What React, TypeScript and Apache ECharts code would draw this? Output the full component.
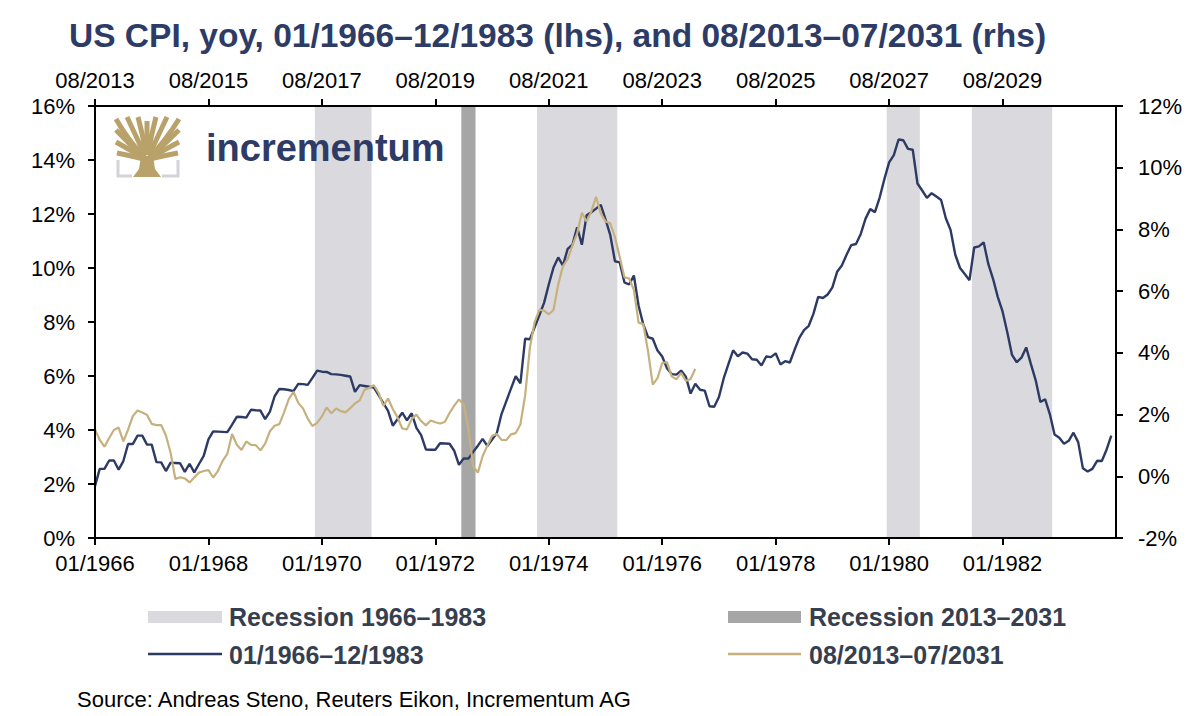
import React, { useEffect, useRef } from "react";
import * as echarts from "echarts";

// ---- Data ----
const bottomStartYear = 1966; // 01/1966
const topStartYear = 2013; // 08/2013
const leftTicks = { min: 0, max: 16, step: 2 };
const rightTicks = { min: -2, max: 12, step: 2 };

// US CPI yoy %, monthly 01/1966 – 12/1983 (lhs)
const cpi1966 = [
  1.92, 2.56, 2.56, 2.87, 2.87, 2.53, 2.85, 3.48, 3.48, 3.79, 3.79, 3.46,
  3.46, 2.81, 2.8, 2.48, 2.79, 2.78, 2.77, 2.45, 2.75, 2.43, 2.74, 3.04,
  3.65, 3.95, 3.94, 3.93, 3.92, 4.2, 4.49, 4.48, 4.46, 4.75, 4.73, 4.72,
  4.4, 4.68, 5.25, 5.52, 5.51, 5.48, 5.44, 5.71, 5.7, 5.67, 5.93, 6.2,
  6.16, 6.15, 6.07, 6.06, 6.04, 6.01, 5.98, 5.41, 5.66, 5.63, 5.6, 5.57,
  5.29, 5.0, 4.71, 4.16, 4.4, 4.64, 4.36, 4.62, 4.08, 3.81, 3.28, 3.27,
  3.27, 3.51, 3.5, 3.49, 3.23, 2.71, 2.95, 2.94, 3.19, 3.42, 3.67, 3.41,
  3.65, 3.88, 4.59, 5.06, 5.53, 5.99, 5.73, 7.38, 7.36, 7.8, 8.25, 8.71,
  9.39, 10.02, 10.39, 10.09, 10.71, 10.86, 11.51, 10.86, 11.95, 12.06, 12.2, 12.34,
  11.8, 11.23, 10.25, 10.21, 9.47, 9.39, 9.72, 8.6, 7.91, 7.44, 7.38, 6.94,
  6.72, 6.29, 6.07, 6.05, 6.2, 5.97, 5.35, 5.71, 5.49, 5.46, 4.88, 4.86,
  5.22, 5.91, 6.44, 6.95, 6.73, 6.87, 6.83, 6.62, 6.6, 6.39, 6.72, 6.7,
  6.84, 6.43, 6.55, 6.5, 6.97, 7.41, 7.7, 7.86, 8.31, 8.93, 8.89, 9.02,
  9.28, 9.86, 10.09, 10.49, 10.85, 10.89, 11.26, 11.82, 12.18, 12.07, 12.61, 13.29,
  13.91, 14.18, 14.76, 14.73, 14.41, 14.38, 13.13, 12.87, 12.6, 12.77, 12.65, 12.52,
  11.84, 11.41, 10.49, 10.0, 9.78, 9.55, 10.76, 10.8, 10.95, 10.14, 9.59, 8.92,
  8.39, 7.62, 6.78, 6.51, 6.68, 7.06, 6.44, 5.85, 5.04, 5.14, 4.59, 3.83,
  3.71, 3.49, 3.6, 3.9, 3.55, 2.58, 2.46, 2.56, 2.86, 2.85, 3.27, 3.79,
];

// US CPI yoy %, monthly 08/2013 – 03/2024 (rhs)
const cpi2013 = [
  1.52, 1.18, 0.96, 1.24, 1.5,
  1.58, 1.13, 1.51, 1.95, 2.13, 2.07, 1.99, 1.7, 1.66, 1.66, 1.32, 0.76,
  -0.09, -0.03, -0.07, -0.2, -0.04, 0.12, 0.17, 0.2, -0.04, 0.17, 0.5, 0.73,
  1.37, 1.02, 0.85, 1.13, 1.02, 1.01, 0.84, 1.06, 1.46, 1.64, 1.69, 2.07,
  2.5, 2.74, 2.38, 2.2, 1.87, 1.63, 1.73, 1.94, 2.23, 2.04, 2.2, 2.11,
  2.07, 2.21, 2.36, 2.46, 2.8, 2.87, 2.95, 2.7, 2.28, 2.52, 2.18, 1.91,
  1.55, 1.52, 1.86, 2.0, 1.79, 1.65, 1.81, 1.75, 1.71, 1.76, 2.05, 2.29,
  2.49, 2.33, 1.54, 0.33, 0.12, 0.65, 0.99, 1.31, 1.37, 1.18, 1.17, 1.36,
  1.4, 1.68, 2.62, 4.16, 4.99, 5.39, 5.37, 5.25, 5.39, 6.22, 6.81, 7.04,
  7.48, 7.87, 8.54, 8.26, 8.58, 9.06, 8.52, 8.26, 8.2, 7.75, 7.11, 6.45,
  6.41, 6.04, 4.98, 4.93, 4.05, 2.97, 3.18, 3.67, 3.7, 3.24, 3.14, 3.35,
  3.09, 3.15, 3.48,
];

// Recessions (MM/YYYY start, end)
const recessions1966 = [
  ["12/1969", "11/1970"],
  ["11/1973", "03/1975"],
  ["01/1980", "07/1980"],
  ["07/1981", "11/1982"],
];
const recessions2013 = [["02/2020", "04/2020"]];

const titleText = "US CPI, yoy, 01/1966–12/1983 (lhs), and 08/2013–07/2031 (rhs)";
const legendLabels = ["Recession 1966–1983", "Recession 2013–2031", "01/1966–12/1983", "08/2013–07/2031"];
const sourceText = "Source: Andreas Steno, Reuters Eikon, Incrementum AG";
const logoText = "incrementum";

// ---- Styles ----
const NAVY = "#2d3b66";
const LINE_BLUE = "#2c3a64";
const GOLD = "#c6b07d";
const LOGO_GOLD = "#b9a16a";
const LOGO_GRAY = "#d4d4d8";
const BAND_LIGHT = "#dadade";
const BAND_DARK = "#a6a6a6";
const LEGEND_TXT = "#363f4f";
const FONT = "'Liberation Sans', Arial, Helvetica, sans-serif";

const totalMonths = 216;

function monthIndex(s: string, baseYear: number, baseMonth: number) {
  const [m, y] = s.split("/").map(Number);
  return (y - baseYear) * 12 + (m - baseMonth);
}

export default function App() {
  const ref = useRef<HTMLDivElement>(null);

  useEffect(() => {
    document.body.style.margin = "0";
    if (!ref.current) return;
    const chart = echarts.init(ref.current, undefined, { renderer: "svg" });

    const blueData = cpi1966.map((v, i) => [i, v]);
    const goldData = cpi2013.map((v, i) => [i, v]);

    const bands1 = recessions1966.map(([s, e]) => [
      { xAxis: monthIndex(s, bottomStartYear, 1) - 0.5 },
      { xAxis: monthIndex(e, bottomStartYear, 1) + 0.5 },
    ]);
    const bands2 = recessions2013.map(([s, e]) => [
      { xAxis: monthIndex(s, topStartYear, 8) - 0.5 },
      { xAxis: monthIndex(e, topStartYear, 8) + 0.5 },
    ]);

    const axisLine = { show: true, onZero: false, lineStyle: { color: "#000", width: 2 } };
    const axisTick = { show: true, inside: false, length: 7, lineStyle: { color: "#000", width: 2 } };
    const labelStyle = { color: "#000", fontSize: 22, fontFamily: FONT };

    // logo tree branches: [x1, y1, cpx, cpy, x2, y2]
    const branches: number[][] = [
      [144, 157, 128, 140, 116, 119],
      [144, 157, 130, 145, 116, 130],
      [144, 158, 130, 150, 116, 142],
      [144, 159, 132, 156, 117, 153],
      [145, 156, 137, 138, 127, 117],
      [146, 155, 143, 135, 138, 117],
      [150, 157, 166, 140, 179, 119],
      [150, 157, 164, 145, 179, 130],
      [150, 158, 164, 150, 179, 142],
      [150, 159, 162, 156, 178, 153],
      [149, 156, 157, 138, 167, 117],
      [148, 155, 151, 135, 156, 117],
      [147, 155, 147, 136, 147, 121],
    ];

    const Z = 50;
    const logoChildren: any[] = [
      {
        type: "polygon",
        z: Z,
        shape: { points: [[133, 177], [161, 177], [155, 169], [153, 156], [141, 156], [139, 169]] },
        style: { fill: LOGO_GOLD },
      },
      ...branches.map((b) => ({
        type: "bezierCurve",
        z: Z,
        shape: { x1: b[0], y1: b[1], cpx1: b[2], cpy1: b[3], x2: b[4], y2: b[5] },
        style: { stroke: LOGO_GOLD, lineWidth: 5, fill: "none" },
      })),
      {
        type: "polyline",
        z: Z,
        shape: { points: [[118, 160], [118, 176], [132, 176]] },
        style: { stroke: LOGO_GRAY, lineWidth: 3, fill: "none" },
      },
      {
        type: "polyline",
        z: Z,
        shape: { points: [[162, 176], [178, 176], [178, 160]] },
        style: { stroke: LOGO_GRAY, lineWidth: 3, fill: "none" },
      },
      {
        type: "text",
        z: Z,
        x: 206,
        y: 148,
        style: {
          text: logoText,
          fill: NAVY,
          font: `bold 38px ${FONT}`,
          verticalAlign: "middle",
          align: "left",
        },
      },
    ];

    const option: any = {
      animation: false,
      backgroundColor: "#fff",
      grid: { left: 95, right: 84, top: 106, bottom: 178, containLabel: false },
      xAxis: [
        {
          type: "value",
          position: "bottom",
          min: 0,
          max: totalMonths,
          interval: 24,
          z: 10,
          axisLine,
          axisTick,
          splitLine: { show: false },
          axisLabel: {
            ...labelStyle,
            margin: 14,
            showMaxLabel: false,
            formatter: (v: number) => "01/" + (bottomStartYear + v / 12),
          },
        },
        {
          type: "value",
          position: "top",
          min: 0,
          max: totalMonths,
          interval: 24,
          z: 10,
          axisLine,
          axisTick,
          splitLine: { show: false },
          axisLabel: {
            ...labelStyle,
            margin: 15,
            showMaxLabel: false,
            formatter: (v: number) => "08/" + (topStartYear + v / 12),
          },
        },
      ],
      yAxis: [
        {
          type: "value",
          position: "left",
          min: leftTicks.min,
          max: leftTicks.max,
          interval: leftTicks.step,
          z: 10,
          axisLine,
          axisTick,
          splitLine: { show: false },
          axisLabel: { ...labelStyle, margin: 20, formatter: "{value}%" },
        },
        {
          type: "value",
          position: "right",
          min: rightTicks.min,
          max: rightTicks.max,
          interval: rightTicks.step,
          z: 10,
          axisLine,
          axisTick,
          splitLine: { show: false },
          axisLabel: { ...labelStyle, margin: 22, formatter: "{value}%" },
        },
      ],
      series: [
        {
          name: legendLabels[0],
          type: "line",
          xAxisIndex: 0,
          yAxisIndex: 0,
          data: [],
          z: 1,
          silent: true,
          markArea: { silent: true, itemStyle: { color: BAND_LIGHT }, data: bands1 },
        },
        {
          name: legendLabels[1],
          type: "line",
          xAxisIndex: 1,
          yAxisIndex: 1,
          data: [],
          z: 1,
          silent: true,
          markArea: { silent: true, itemStyle: { color: BAND_DARK }, data: bands2 },
        },
        {
          name: legendLabels[2],
          type: "line",
          xAxisIndex: 0,
          yAxisIndex: 0,
          data: blueData,
          showSymbol: false,
          symbol: "none",
          z: 3,
          lineStyle: { color: LINE_BLUE, width: 2.4 },
        },
        {
          name: legendLabels[3],
          type: "line",
          xAxisIndex: 1,
          yAxisIndex: 1,
          data: goldData,
          showSymbol: false,
          symbol: "none",
          z: 4,
          lineStyle: { color: GOLD, width: 2.2 },
        },
      ],
      graphic: [
        {
          type: "text",
          left: 69,
          top: 18,
          z: Z,
          style: { text: titleText, fill: NAVY, font: `bold 33.5px ${FONT}` },
        },
        ...logoChildren,
        // legend
        { type: "rect", z: Z, shape: { x: 148, y: 611, width: 74, height: 12 }, style: { fill: BAND_LIGHT } },
        { type: "rect", z: Z, shape: { x: 728, y: 611, width: 73, height: 12 }, style: { fill: BAND_DARK } },
        { type: "line", z: Z, shape: { x1: 148, y1: 654, x2: 222, y2: 654 }, style: { stroke: LINE_BLUE, lineWidth: 2.5 } },
        { type: "line", z: Z, shape: { x1: 728, y1: 654, x2: 801, y2: 654 }, style: { stroke: GOLD, lineWidth: 2.5 } },
        {
          type: "text",
          z: Z,
          x: 229,
          y: 617,
          style: { text: legendLabels[0], fill: LEGEND_TXT, font: `bold 25px ${FONT}`, verticalAlign: "middle" },
        },
        {
          type: "text",
          z: Z,
          x: 809,
          y: 617,
          style: { text: legendLabels[1], fill: LEGEND_TXT, font: `bold 25px ${FONT}`, verticalAlign: "middle" },
        },
        {
          type: "text",
          z: Z,
          x: 229,
          y: 655,
          style: { text: legendLabels[2], fill: LEGEND_TXT, font: `bold 25px ${FONT}`, verticalAlign: "middle" },
        },
        {
          type: "text",
          z: Z,
          x: 809,
          y: 655,
          style: { text: legendLabels[3], fill: LEGEND_TXT, font: `bold 25px ${FONT}`, verticalAlign: "middle" },
        },
        {
          type: "text",
          z: Z,
          x: 77,
          y: 699,
          style: { text: sourceText, fill: "#000", font: `22px ${FONT}`, verticalAlign: "middle" },
        },
      ],
    };

    chart.setOption(option);
    return () => chart.dispose();
  }, []);

  return <div ref={ref} style={{ width: 1200, height: 716 }} />;
}
